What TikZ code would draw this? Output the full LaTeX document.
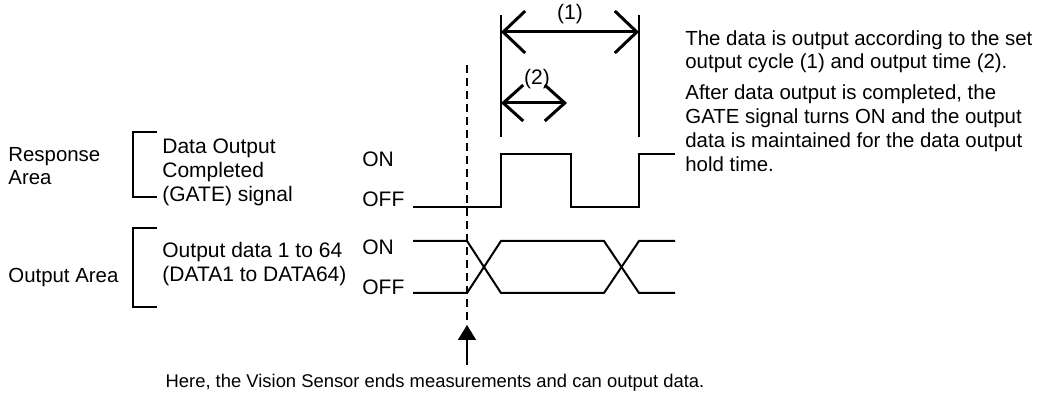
\documentclass[tikz,border=0pt]{standalone}
\usepackage{fontspec}
\setmainfont{Liberation Sans}
\usetikzlibrary{arrows.meta}

\begin{document}
\begin{tikzpicture}[x=0.5pt,y=-0.5pt,
  every node/.style={font=\fontsize{10.5}{12}\selectfont,inner sep=0pt},
  txt/.style={anchor=base west,align=left},
  lvl/.style={anchor=base west},
  sig/.style={line width=1pt},
  ext/.style={line width=0.75pt},
  brk/.style={line width=1pt},
  dim/.style={{Straight Barb[length=11pt,width=21pt]}-{Straight Barb[length=11pt,width=21pt]},line width=1.5pt},
  dimsmall/.style={{Straight Barb[length=10pt,width=18pt]}-{Straight Barb[length=10pt,width=18pt]},line width=1.5pt}]
  \useasboundingbox (0,0) rectangle (1040,395);
  % area labels and brackets
  \node[txt,font=\fontsize{10.2}{11.5}\selectfont] (resp) at (8,185) {Response\\Area};
  \node[txt,font=\fontsize{10.2}{11.5}\selectfont] (outarea) at (8,283) {Output Area};
  \draw[brk] (157,132) -| (133,197) -- (157,197);
  \draw[brk] (157,228) -| (133,307) -- (157,307);
  \node[txt] (gate) at (162,202) {Data Output\\Completed\\(GATE) signal};
  \node[txt] (data) at (162,282) {Output data 1 to 64\\(DATA1 to DATA64)};
  % levels
  \node[lvl] (gon) at (362,167) {ON};
  \node[lvl] (goff) at (362,207) {OFF};
  \node[lvl] (don) at (362,255) {ON};
  \node[lvl] (doff) at (362,295) {OFF};
  % GATE signal
  \draw[sig] (413,207) -- (501,207) -- (501,154) -- (571,154) -- (571,207)
    -- (639,207) -- (639,154) -- (675,154);
  % output data
  \draw[sig] (413,241) -- (467,241) -- (501,293) -- (604,293) -- (639,241) -- (675,241);
  \draw[sig] (413,293) -- (467,293) -- (501,241) -- (604,241) -- (639,293) -- (675,293);
  % cycle and time
  \draw[ext] (501,15) -- (501,137);
  \draw[ext] (639,15) -- (639,137);
  \coordinate (c1a) at (501,32);
  \coordinate (c1b) at (639,32);
  \coordinate (c2a) at (501,103);
  \coordinate (c2b) at (567,103);
  \draw[dim] (c1a) -- (c1b);
  \draw[dimsmall] (c2a) -- (c2b);
  \node[anchor=base] (cyc) at (570,20) {(1)};
  \node[anchor=base] (otime) at (537,85) {(2)};
  % end of measurement
  \coordinate (dtop) at (467,65);
  \coordinate (dend) at (467,325);
  \draw[ext,dash pattern=on 4pt off 2.5pt] (dtop) -- (dend);
  \node[anchor=base,font=\fontsize{9.2}{11}\selectfont] (note) at (435,388)
    {Here, the Vision Sensor ends measurements and can output data.};
  \coordinate (tail) at (467,365);
  \draw[line width=1pt,-{Triangle[length=7.5pt,width=9pt]}] (tail) -- (dend);
  % explanation
  \node[txt,font=\fontsize{10.2}{11.5}\selectfont] (expl1) at (685,69)
    {The data is output according to the set\\output cycle (1) and output time (2).};
  \node[txt,font=\fontsize{10.2}{12}\selectfont] (expl2) at (685,172)
    {After data output is completed, the\\GATE signal turns ON and the output\\data is maintained for the data output\\hold time.};
\end{tikzpicture}
\end{document}
